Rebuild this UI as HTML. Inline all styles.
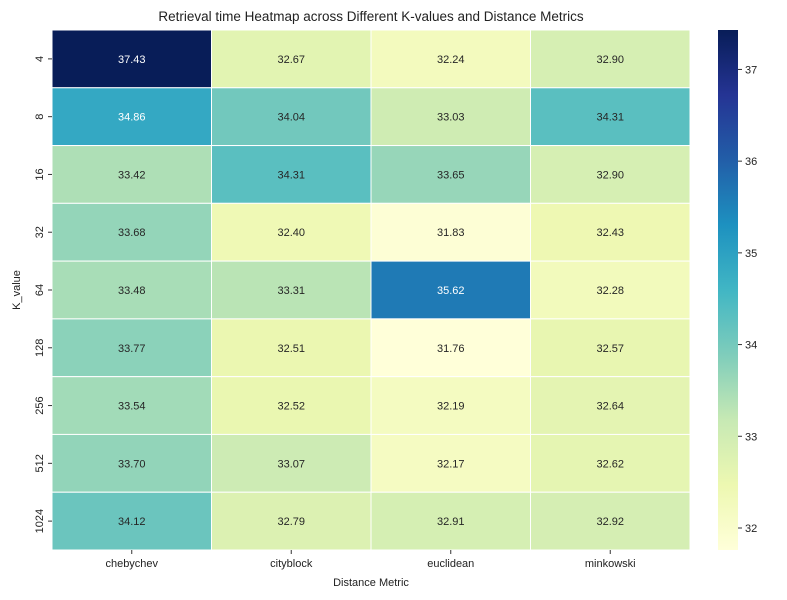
<!DOCTYPE html>
<html><head><meta charset="utf-8"><style>
body{margin:0;background:#fff;font-family:"Liberation Sans",sans-serif;}
svg text{font-family:"Liberation Sans",sans-serif;}
</style></head><body>
<svg id="chart" width="787" height="595" xmlns="http://www.w3.org/2000/svg">
<text x="371" y="21" text-anchor="middle" font-size="13.5" fill="#222">Retrieval time Heatmap across Different K-values and Distance Metrics</text>
<g id="cells"></g>
<g id="xt"></g>
<g id="yt"></g>
<text x="371" y="586" text-anchor="middle" font-size="11" fill="#222">Distance Metric</text>
<text transform="translate(20,290) rotate(-90)" text-anchor="middle" font-size="11" fill="#222">K_value</text>
<defs><linearGradient id="cg" x1="0" y1="1" x2="0" y2="0"></linearGradient></defs>
<rect id="cbar" x="718" y="30" width="20" height="520" fill="url(#cg)"/>
<g id="ct"></g>
</svg>
<script>
const metrics=["chebychev","cityblock","euclidean","minkowski"];
const kvals=["4","8","16","32","64","128","256","512","1024"];
const values=[
[37.43,32.67,32.24,32.90],
[34.86,34.04,33.03,34.31],
[33.42,34.31,33.65,32.90],
[33.68,32.40,31.83,32.43],
[33.48,33.31,35.62,32.28],
[33.77,32.51,31.76,32.57],
[33.54,32.52,32.19,32.64],
[33.70,33.07,32.17,32.62],
[34.12,32.79,32.91,32.92]];
const cbTicks=[32,33,34,35,36,37];
const NS="http://www.w3.org/2000/svg";
const X0=52,X1=690,Y0=30,Y1=550;
const flat=values.flat();const vmin=Math.min(...flat),vmax=Math.max(...flat);
const stops=["#ffffd9","#edf8b1","#c7e9b4","#7fcdbb","#41b6c4","#1d91c0","#225ea8","#253494","#081d58"];
function hex(h){return [1,3,5].map(i=>parseInt(h.substr(i,2),16));}
function cmap(v){let t=(v-vmin)/(vmax-vmin);t=Math.max(0,Math.min(1,t))*(stops.length-1);
let i=Math.min(stops.length-2,Math.floor(t)),f=t-i;const a=hex(stops[i]),b=hex(stops[i+1]);
const c=a.map((x,k)=>Math.round(x+(b[k]-x)*f));return c;}
const cw=(X1-X0)/metrics.length,ch=(Y1-Y0)/kvals.length;
const xs=i=>X0+i*cw, ys=j=>Y0+j*ch;
function el(tag,attrs,parent){const e=document.createElementNS(NS,tag);for(const k in attrs)e.setAttribute(k,attrs[k]);parent.appendChild(e);return e;}
const cells=document.getElementById('cells');
values.forEach((row,j)=>row.forEach((v,i)=>{
const c=cmap(v);
const r=el('rect',{x:xs(i),y:ys(j),width:cw,height:ch,fill:`rgb(${c})`,stroke:'#fff','stroke-width':1},cells);


const lum=0.299*c[0]+0.587*c[1]+0.114*c[2];
const t=el('text',{x:xs(i)+cw/2,y:ys(j)+ch/2+4,'text-anchor':'middle','font-size':11,fill:lum<150?'#fff':'#262626'},cells);
t.textContent=v.toFixed(2);


}));
const xt=document.getElementById('xt');
metrics.forEach((m,i)=>{const x=xs(i)+cw/2;
el('line',{x1:x,x2:x,y1:Y1,y2:Y1+4,stroke:'#333'},xt);
const t=el('text',{x:x,y:Y1+17,'text-anchor':'middle','font-size':11,fill:'#222'},xt);t.textContent=m;

});
const yt=document.getElementById('yt');
kvals.forEach((k,j)=>{const y=ys(j)+ch/2;
el('line',{x1:X0-4,x2:X0,y1:y,y2:y,stroke:'#333'},yt);
const t=el('text',{transform:`translate(${X0-9},${y}) rotate(-90)`,'text-anchor':'middle','font-size':11,fill:'#222'},yt);t.textContent=k;

});
const g=document.getElementById('cg');
stops.forEach((s,i)=>el('stop',{offset:(i/(stops.length-1)),'stop-color':s},g));
const ct=document.getElementById('ct');
cbTicks.forEach(v=>{const y=Y1-(v-vmin)/(vmax-vmin)*(Y1-Y0);
el('line',{x1:738,x2:742,y1:y,y2:y,stroke:'#333'},ct);
const t=el('text',{x:745,y:y+4,'font-size':11,fill:'#222'},ct);t.textContent=v;

});
</script>
</body></html>
